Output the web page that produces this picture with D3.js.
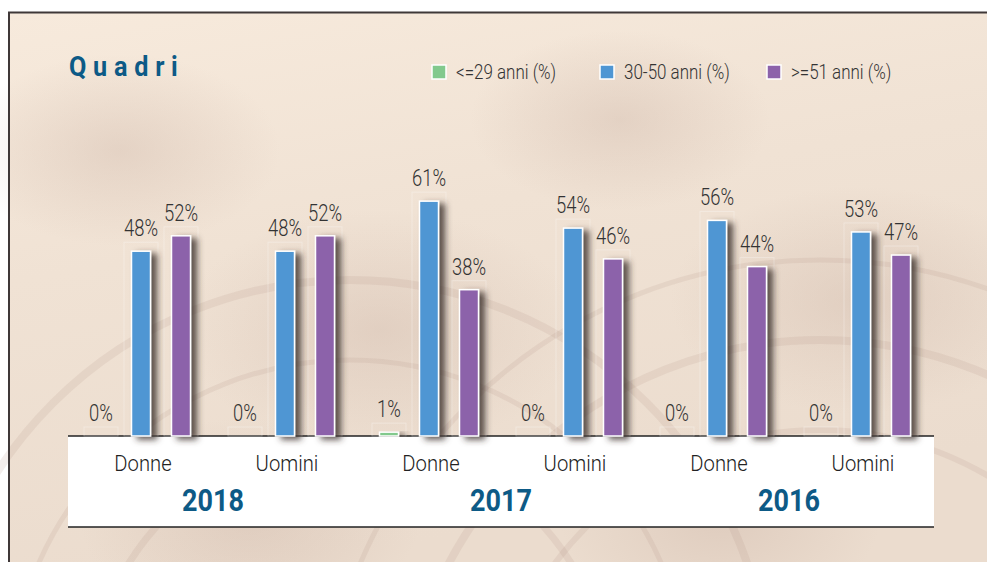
<!DOCTYPE html>
<head>
<meta charset="utf-8" />
<script src="https://d3js.org/d3.v7.min.js"></script>
<style>
    body { margin: 0; background: #fff; }
    svg { display: block; }
    text { font-family: Roboto, "Open Sans", sans-serif; }
</style>
</head>
<body>
<div id="chart"></div>
<script>
// data
var categories = ["Donne", "Uomini", "Donne", "Uomini", "Donne", "Uomini"];
var years = ["2018", "2017", "2016"];
var seriesNames = ["<=29 anni (%)", "30-50 anni (%)", ">=51 anni (%)"];
var under29 = [0, 0, 1, 0, 0, 0];
var from30to50 = [48, 48, 61, 54, 56, 53];
var over51 = [52, 52, 38, 46, 44, 47];
var colors = ["#82c98d", "#4f96d3", "#8c62aa"];

var width = 987, height = 562;
var series = [under29, from30to50, over51];

var svg = d3.select("#chart").append("svg")
    .attr("width", width)
    .attr("height", height);

var defs = svg.append("defs");

var bg = defs.append("linearGradient").attr("id", "bg")
    .attr("x1", 0).attr("y1", 0).attr("x2", 0.3).attr("y2", 1);
bg.append("stop").attr("offset", "0%").attr("stop-color", "#f7eadc");
bg.append("stop").attr("offset", "45%").attr("stop-color", "#f0e2d4");
bg.append("stop").attr("offset", "100%").attr("stop-color", "#ebdcce");

var spot = defs.append("radialGradient").attr("id", "spot");
spot.append("stop").attr("offset", "0%").attr("stop-color", "#c9b0a2").attr("stop-opacity", 0.35);
spot.append("stop").attr("offset", "100%").attr("stop-color", "#c9b0a2").attr("stop-opacity", 0);

var shadow = defs.append("filter").attr("id", "shadow")
    .attr("x", "-20%").attr("y", "-10%").attr("width", "220%").attr("height", "130%");
shadow.append("feDropShadow")
    .attr("dx", 6).attr("dy", 3).attr("stdDeviation", 3.2)
    .attr("flood-color", "#3b302a").attr("flood-opacity", 0.8);

// background panel
svg.append("rect")
    .attr("x", 8).attr("y", 12)
    .attr("width", width - 8).attr("height", height - 12)
    .attr("fill", "url(#bg)");

// soft darker patches, like the stone texture
var patches = [[120, 150, 160], [380, 330, 200], [620, 120, 150], [860, 300, 190], [250, 520, 170], [720, 520, 160]];
svg.append("g").selectAll("ellipse")
    .data(patches)
    .join("ellipse")
    .attr("cx", function(d) { return d[0]; })
    .attr("cy", function(d) { return d[1]; })
    .attr("rx", function(d) { return d[2]; })
    .attr("ry", function(d) { return d[2] * 0.6; })
    .attr("fill", "url(#spot)");

// faint grain arcs
var arcs = svg.append("g").attr("fill", "none").attr("stroke", "#b3968a").attr("stroke-opacity", 0.16);
[[350, 700, 260, 7], [350, 700, 340, 5], [350, 700, 420, 8], [820, 760, 330, 6], [820, 760, 420, 8], [820, 760, 500, 5]].forEach(function(a) {
    arcs.append("circle").attr("cx", a[0]).attr("cy", a[1]).attr("r", a[2])
        .attr("stroke-width", a[3]);
});

// frame lines
svg.append("line").attr("x1", 8).attr("x2", width).attr("y1", 12.5).attr("y2", 12.5)
    .attr("stroke", "#3f3838").attr("stroke-width", 2);
svg.append("line").attr("x1", 9).attr("x2", 9).attr("y1", 12).attr("y2", height)
    .attr("stroke", "#3f3838").attr("stroke-width", 2);

// condensed text helper
function place(sel, fx, fy, sx) {
    sel.attr("transform", function(d, i) {
        return "translate(" + fx(d, i) + "," + fy(d, i) + ") scale(" + sx + ",1)";
    });
}

// title
svg.append("text")
    .attr("fill", "#0d5a86")
    .style("font-size", "28px")
    .style("font-weight", "bold")
    .style("letter-spacing", "7.5px")
    .text("Quadri")
    .call(place, function() { return 69; }, function() { return 76; }, 0.9);

// scales
var x = d3.scaleBand().domain(d3.range(categories.length)).range([69, 933]);
var offset = d3.scalePoint().domain(d3.range(series.length)).range([-40, 40]);
var y = d3.scaleLinear().domain([0, 100]).range([436, 51]);
var barW = 19;

// white box for axis labels
svg.append("rect")
    .attr("x", x.range()[0] - 1).attr("y", y(0))
    .attr("width", x.range()[1] - x.range()[0] + 2).attr("height", 91)
    .attr("fill", "#fff");
svg.append("line")
    .attr("x1", x.range()[0] - 1).attr("x2", x.range()[1] + 1)
    .attr("y1", y(0)).attr("y2", y(0))
    .attr("stroke", "#222").attr("stroke-width", 1.5);
svg.append("line")
    .attr("x1", x.range()[0] - 1).attr("x2", x.range()[1] + 1)
    .attr("y1", y(0) + 91).attr("y2", y(0) + 91)
    .attr("stroke", "#222").attr("stroke-width", 1.5);

// bars
var cells = [];
series.forEach(function(vals, s) {
    vals.forEach(function(v, i) { cells.push({ s: s, i: i, v: v }); });
});

function cx(d) { return x(d.i) + x.bandwidth() / 2 + offset(d.s); }

// faint label boxes
svg.append("g").selectAll("rect")
    .data(cells)
    .join("rect")
    .attr("x", function(d) { return cx(d) - 17; })
    .attr("y", function(d) { return y(d.v) - 9; })
    .attr("width", 34)
    .attr("height", function(d) { return y(0) - y(d.v) + 9; })
    .attr("fill", "none")
    .attr("stroke", "#fff")
    .attr("stroke-opacity", 0.3);

svg.append("g").selectAll("rect")
    .data(cells.filter(function(d) { return d.v > 0; }))
    .join("rect")
    .attr("x", function(d) { return cx(d) - barW / 2; })
    .attr("y", function(d) { return y(d.v); })
    .attr("width", barW)
    .attr("height", function(d) { return y(0) - y(d.v); })
    .attr("fill", function(d) { return colors[d.s]; })
    .attr("stroke", "#fff")
    .attr("stroke-width", 1.5)
    .attr("filter", "url(#shadow)");

// value labels
svg.append("g").selectAll("text")
    .data(cells)
    .join("text")
    .attr("text-anchor", "middle")
    .attr("fill", "#333")
    .style("font-size", "23px")
    .style("font-weight", 300)
    .text(function(d) { return d.v + "%"; })
    .call(place, function(d) { return cx(d); }, function(d) { return y(d.v) - 15; }, 0.8);

// category labels
svg.append("g").selectAll("text")
    .data(categories)
    .join("text")
    .attr("text-anchor", "middle")
    .attr("fill", "#222")
    .style("font-size", "22px")
    .style("font-weight", 300)
    .text(function(d) { return d; })
    .call(place, function(d, i) { return x(i) + x.bandwidth() / 2 + 2; }, function() { return 471; }, 0.92);

// year labels
svg.append("g").selectAll("text")
    .data(years)
    .join("text")
    .attr("text-anchor", "middle")
    .attr("fill", "#0d5a86")
    .style("font-size", "31px")
    .style("font-weight", "bold")
    .text(function(d) { return d; })
    .call(place, function(d, i) { return x(i * 2) + x.bandwidth(); }, function() { return 511; }, 0.87);

// legend
var legend = svg.append("g").selectAll("g")
    .data(seriesNames)
    .join("g")
    .attr("transform", function(d, i) { return "translate(" + [432, 600, 767][i] + ",65)"; });
legend.append("rect")
    .attr("width", 14).attr("height", 14)
    .attr("fill", function(d, i) { return colors[i]; })
    .attr("stroke", "#fff").attr("stroke-width", 1.5);
legend.append("text")
    .attr("fill", "#333")
    .style("font-size", "19.5px")
    .style("font-weight", 300)
    .text(function(d) { return d; })
    .call(place, function() { return 24; }, function() { return 14; }, 0.87);
</script>
</body>
